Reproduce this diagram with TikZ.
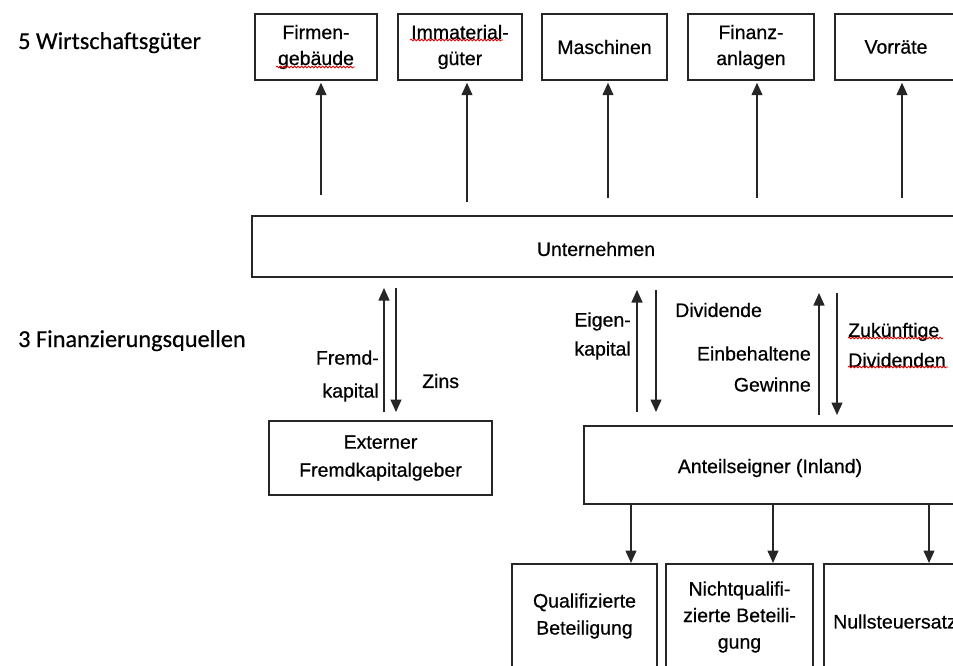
\documentclass[tikz,border=0pt]{standalone}
\usepackage{fontspec}
\setmainfont{Liberation Sans}[FakeBold=0.6]
\newfontfamily\labfont{Carlito}[FakeBold=0.5]
\usetikzlibrary{arrows.meta,decorations.pathmorphing}
\begin{document}
\begin{tikzpicture}[x=1pt,y=-1pt,
 box/.style={draw=black!85,line width=1.5pt,rectangle,inner sep=0pt,align=center,font=\fontsize{19.5}{26}\selectfont},
 arr/.style={draw=black!85,line width=1.3pt,-{Triangle[width=11pt,length=12.5pt]}},
 txt/.style={inner sep=0pt,font=\fontsize{19.5}{26}\selectfont},
 head/.style={inner sep=0pt,anchor=base west,font=\labfont\fontsize{24.3}{29}\selectfont},
 wavy/.style={draw=red!90!black,line width=0.8pt,decorate,decoration={snake,amplitude=0.9pt,segment length=3.5pt}}
]
\useasboundingbox (0,0) rectangle (953,666);
\clip (0,0) rectangle (953,666);
\fill[white] (0,0) rectangle (953,666);

% headings
\node[head] (h1) at (18,49) {5 Wirtschaftsgüter};
\node[head] (h2) at (18,347) {3 Finanzierungsquellen};

% top boxes
\node[box,minimum width=122pt,minimum height=66pt] (b1) at (316,47) {Firmen-\\gebäude};
\node[box,minimum width=124pt,minimum height=66pt] (b2) at (460,47) {Immaterial-\\güter};
\node[box,minimum width=125pt,minimum height=66pt] (b3) at (604.5,47) {Maschinen};
\node[box,minimum width=126pt,minimum height=66pt] (b4) at (751,47) {Finanz-\\anlagen};
\node[box,minimum width=122pt,minimum height=66pt] (b5) at (896,47) {Vorräte};

% Unternehmen
\node[box,minimum width=720pt,minimum height=61pt] (unt) at (612,246.5) {};
\node[txt] (untl) at (596,249) {Unternehmen};

% arrows to the assets
\coordinate (s1) at (321,195);
\coordinate (s2) at (467,202);
\coordinate (s3) at (608,198);
\coordinate (s4) at (757,198);
\coordinate (s5) at (902,198);
\draw[arr,shorten >=2pt] (s1) -- (b1.south -| s1);
\draw[arr,shorten >=2pt] (s2) -- (b2.south -| s2);
\draw[arr,shorten >=2pt] (s3) -- (b3.south -| s3);
\draw[arr,shorten >=2pt] (s4) -- (b4.south -| s4);
\draw[arr,shorten >=2pt] (s5) -- (b5.south -| s5);

% lower boxes
\node[box,minimum width=223pt,minimum height=74pt,font=\fontsize{19.5}{28}\selectfont] (ext) at (380.5,458) {Externer\\Fremdkapitalgeber};
\node[box,minimum width=374pt,minimum height=78pt] (ant) at (771,465) {};
\node[txt] (antl) at (770,468) {Anteilseigner (Inland)};

% financing arrows
\coordinate (fa) at (384,412); \coordinate (fb) at (384,288);
\coordinate (za) at (396,288); \coordinate (zb) at (396,412);
\coordinate (ea) at (637,412); \coordinate (eb) at (637,290);
\coordinate (da) at (656,290); \coordinate (db) at (656,412);
\coordinate (ga) at (819,415); \coordinate (gb) at (819,293);
\coordinate (ka) at (837,293); \coordinate (kb) at (837,415);
\draw[arr] (fa) -- (fb);
\draw[arr] (za) -- (zb);
\draw[arr] (ea) -- (eb);
\draw[arr] (da) -- (db);
\draw[arr] (ga) -- (gb);
\draw[arr] (ka) -- (kb);

% labels
\node[txt,align=right,anchor=east,font=\fontsize{19.5}{33}\selectfont] (lfk) at (379,376) {Fremd-\\kapital};
\node[txt,anchor=west] (lz) at (422,381) {Zins};
\node[txt,align=right,anchor=east,font=\fontsize{19.5}{29}\selectfont] (lek) at (631,336) {Eigen-\\kapital};
\node[txt,anchor=west] (ldiv) at (675,310) {Dividende};
\node[txt,align=right,anchor=east,font=\fontsize{19.5}{31}\selectfont] (leg) at (811,369) {Einbehaltene\\Gewinne};
\node[txt,align=left,anchor=west,font=\fontsize{19.5}{30}\selectfont] (lzd) at (848,345) {Zukünftige\\Dividenden};

% bottom boxes
\node[box,minimum width=145pt,minimum height=140pt,anchor=north] (q1) at (584.5,563) {};
\node[box,minimum width=147pt,minimum height=140pt,anchor=north] (q2) at (739.5,563) {};
\node[box,minimum width=146pt,minimum height=140pt,anchor=north] (q3) at (897,563) {};
\node[txt,align=center,font=\fontsize{19.5}{27}\selectfont] (lq1) at (584.5,616) {Qualifizierte\\Beteiligung};
\node[txt,align=center,font=\fontsize{19.5}{26.5}\selectfont] (lq2) at (739.5,617) {Nichtqualifi-\\zierte Beteili-\\gung};
\node[txt,anchor=west] (lq3) at (833,621.5) {Nullsteuersatz};

\coordinate (d1) at (631,0);
\coordinate (d2) at (773,0);
\coordinate (d3) at (929,0);
\draw[arr] (ant.south -| d1) -- (q1.north -| d1);
\draw[arr] (ant.south -| d2) -- (q2.north -| d2);
\draw[arr] (ant.south -| d3) -- (q3.north -| d3);

% spell-check underlines
\draw[wavy] (276,67) -- (355,67);
\draw[wavy] (410,40) -- (503,40);
\draw[wavy] (848,338) -- (943,338);
\draw[wavy] (848,367) -- (948,367);
\end{tikzpicture}
\end{document}
